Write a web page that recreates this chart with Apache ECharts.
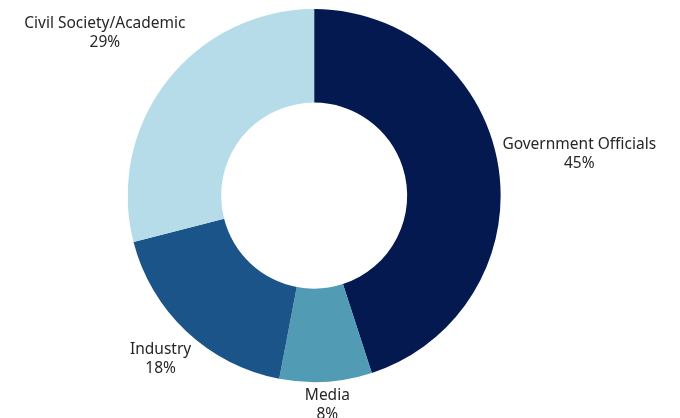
<!DOCTYPE html>
<html>
<head>
<meta charset="utf-8">
<script src="https://cdn.jsdelivr.net/npm/echarts@6/dist/echarts.min.js"></script>
<style>
html,body{margin:0;padding:0;background:#fff;}
#chart{width:680px;height:418px;}
</style>
</head>
<body>
<div id="chart"></div>
<script>
const categories = ['Government Officials', 'Media', 'Industry', 'Civil Society/Academic'];
const values = [45, 8, 18, 29];
const colors = ['#03194F', '#529BB4', '#1B5489', '#B7DCE9'];

const chart = echarts.init(document.getElementById('chart'), null, {renderer: 'canvas'});
const GAP = 3;
chart.setOption({
  animation: false,
  series: [{
    type: 'pie',
    center: ['46.2%', '46.8%'],
    radius: [93, 186.5],
    startAngle: 90,
    clockwise: true,
    avoidLabelOverlap: false,
    itemStyle: {borderWidth: 0},
    data: categories.map((c, i) => ({name: c, value: values[i], itemStyle: {color: colors[i]}})),
    label: {
      show: true,
      position: 'outside',
      formatter: '{b}\n{c}%',
      fontFamily: 'Noto Sans',
      fontSize: 15.5,
      lineHeight: 19,
      color: '#262626'
    },
    labelLine: {show: false, length: 10, length2: 0},
    labelLayout: function (p) {
      const pts = p.labelLinePoints;
      if (!pts) return {};
      const p0 = pts[0], p1 = pts[1];
      let ux = p1[0] - p0[0], uy = p1[1] - p0[1];
      const L = Math.hypot(ux, uy) || 1;
      ux /= L; uy /= L;
      const w = p.labelRect.width, h = p.labelRect.height;
      const s = (w / 2) * Math.abs(ux) + (h / 2) * Math.abs(uy);
      return {
        x: p0[0] + ux * (GAP + s),
        y: p0[1] + uy * (GAP + s),
        align: 'center',
        verticalAlign: 'middle'
      };
    }
  }]
});
</script>
</body>
</html>
